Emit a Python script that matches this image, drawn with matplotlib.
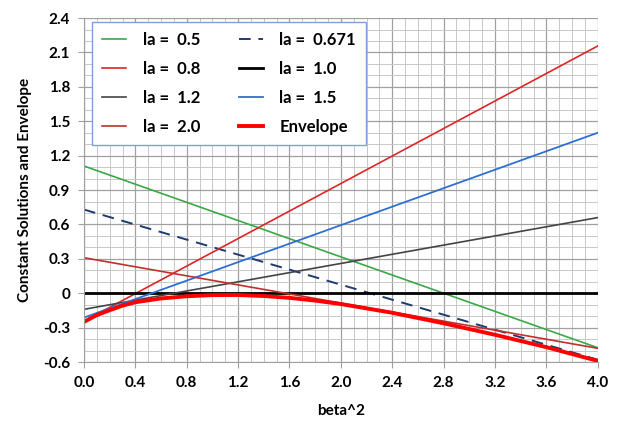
import numpy as np
import matplotlib.pyplot as plt
from matplotlib.ticker import MultipleLocator

plt.rcParams['font.family'] = ['Lato', 'DejaVu Sans']
plt.rcParams['font.weight'] = 'bold'

# straight-line constant solutions: value at beta^2 = 0 and at beta^2 = 4
beta_ends = [0.0, 4.0]
la_labels = ['la =  0.5', 'la =  0.671', 'la =  0.8', 'la =  1.0',
             'la =  1.2', 'la =  1.5', 'la =  2.0']
start_vals = [1.11, 0.73, -0.243, 0.0, -0.14, -0.212, 0.31]
end_vals = [-0.475, -0.58, 2.157, 0.0, 0.66, 1.40, -0.48]

# envelope curve
env_x = [0.0, 0.1, 0.2, 0.3, 0.4, 0.6, 0.8, 1.0, 1.2, 1.4, 1.6, 1.8, 2.0,
         2.4, 2.8, 3.2, 3.6, 4.0]
env_y = [-0.25, -0.19, -0.148, -0.108, -0.078, -0.045, -0.026, -0.016,
         -0.015, -0.024, -0.04, -0.064, -0.094, -0.17, -0.262, -0.362,
         -0.47, -0.59]

styles = [
    dict(color='#3aa845', lw=1.2, ls='-'),
    dict(color='#1f3a6e', lw=1.4, ls=(0, (6, 4))),
    dict(color='#dd2626', lw=1.2, ls='-'),
    dict(color='black', lw=2.0, ls='-'),
    dict(color='#444444', lw=1.2, ls='-'),
    dict(color='#2f6fd2', lw=1.3, ls='-'),
    dict(color='#c0302c', lw=1.2, ls='-'),
]

fig = plt.figure(figsize=(6.22, 4.21), dpi=100)
ax = fig.add_axes([0.135, 0.14, 0.826, 0.817])

handles = {}
for lab, y0, y1, st in zip(la_labels, start_vals, end_vals, styles):
    h, = ax.plot(beta_ends, [y0, y1], label=lab, **st)
    handles[lab] = h
env, = ax.plot(env_x, env_y, color='#ff0000', lw=2.8, label='Envelope')

ax.set_xlim(0, 4.0)
ax.set_ylim(-0.6, 2.4)
ax.xaxis.set_major_locator(MultipleLocator(0.4))
ax.xaxis.set_minor_locator(MultipleLocator(0.1))
ax.yaxis.set_major_locator(MultipleLocator(0.3))
ax.yaxis.set_minor_locator(MultipleLocator(0.1))
ax.xaxis.set_major_formatter(lambda v, p: f'{v:.1f}')
ax.yaxis.set_major_formatter(lambda v, p: '0' if abs(v) < 1e-9 else f'{v:.1f}')

ax.grid(which='major', color='#a0a0a0', lw=0.9)
ax.grid(which='minor', color='#c8c8c8', lw=0.7)
ax.set_axisbelow(True)
for side in ['top', 'right']:
    ax.spines[side].set_visible(False)
for side in ['left', 'bottom']:
    ax.spines[side].set_color('#a0a0a0')
ax.tick_params(which='major', length=4, color='#a0a0a0', labelsize=11, pad=6)
ax.tick_params(which='minor', length=0)

ax.set_xlabel('beta^2', fontsize=11, fontweight='bold', labelpad=10)
ax.set_ylabel('Constant Solutions and Envelope', fontsize=11,
              fontweight='bold', labelpad=8)

order = ['la =  0.5', 'la =  0.8', 'la =  1.2', 'la =  2.0',
         'la =  0.671', 'la =  1.0', 'la =  1.5']
hs = [handles[k] for k in order] + [env]
leg = ax.legend(hs, order + ['Envelope'], ncol=2, loc='upper left',
                bbox_to_anchor=(0.0156, 0.988), fontsize=12, frameon=True,
                fancybox=False, framealpha=1, edgecolor='#7f9fd8',
                handlelength=1.45, handletextpad=1.0, columnspacing=2.3,
                labelspacing=0.78, borderpad=0.6, borderaxespad=0)
leg.get_frame().set_linewidth(1.0)

fig.savefig('out.png', dpi=100)
